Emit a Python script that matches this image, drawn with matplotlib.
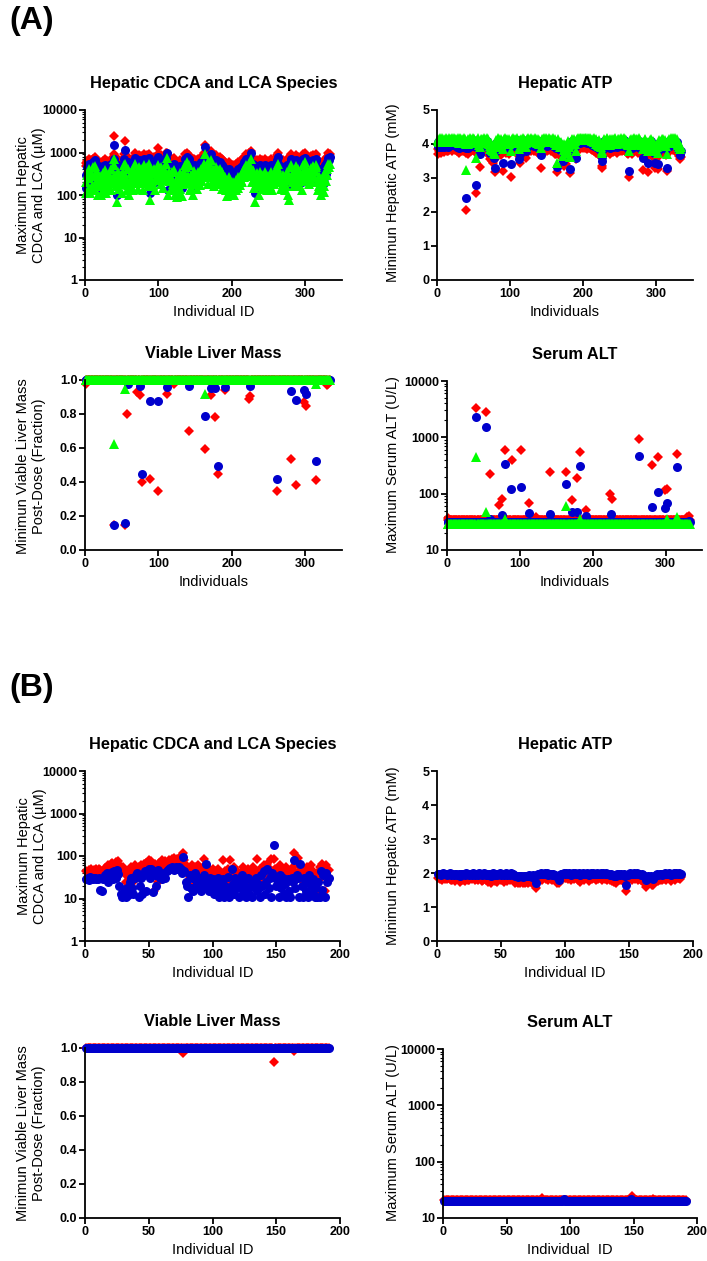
import matplotlib
matplotlib.use('agg')
import matplotlib.pyplot as plt
from matplotlib.ticker import FuncFormatter, NullFormatter
import numpy as np

plt.rcParams['font.family'] = ['Liberation Sans', 'DejaVu Sans']

# ---------------- (A) 333 individuals ----------------
# hepatic CDCA + LCA (uM), one value per individual
cdca_a_red = [
    560, 480, 620, 350, 700, 540, 300, 650, 420, 580,
    720, 390, 610, 800, 450, 520, 680, 330, 470, 590,
    400, 250, 530, 640, 360, 480, 700, 560, 290, 620,
    510, 440, 380, 600, 720, 350, 480, 560, 900, 2500,
    650, 420, 300, 540, 700, 380, 620, 480, 560, 330,
    450, 700, 900, 1900, 600, 520, 380, 800, 450, 300,
    560, 680, 420, 500, 740, 360, 620, 950, 480, 550,
    700, 400, 880, 650, 520, 820, 600, 750, 380, 900,
    480, 640, 560, 880, 700, 420, 920, 350, 600, 780,
    520, 680, 450, 800, 560, 380, 700, 620, 900, 1300,
    560, 720, 480, 850, 620, 400, 780, 560, 680, 950,
    1000, 600, 450, 720, 520, 650, 380, 560, 700, 480,
    750, 400, 300, 520, 250, 600, 450, 350, 680, 400,
    560, 300, 620, 480, 700, 900, 560, 850, 950, 620,
    880, 500, 380, 650, 420, 560, 300, 720, 480, 600,
    650, 520, 400, 700, 560, 620, 450, 800, 520, 680,
    700, 950, 1500, 900, 600, 750, 480, 1000, 850, 620,
    1100, 700, 500, 800, 600, 450, 720, 560, 850, 650,
    750, 600, 480, 800, 520, 700, 400, 650, 550, 480,
    600, 380, 520, 300, 450, 600, 400, 550, 350, 480,
    400, 500, 320, 450, 550, 380, 480, 600, 420, 520,
    460, 550, 650, 500, 720, 600, 800, 680, 900, 750,
    620, 850, 700, 950, 800, 1100, 650, 500, 750, 420,
    600, 350, 520, 680, 450, 600, 300, 550, 700, 480,
    650, 520, 400, 600, 700, 480, 550, 380, 620, 500,
    580, 450, 700, 600, 380, 520, 650, 480, 560, 750,
    600, 850, 950, 700, 500, 620, 400, 580, 480, 650,
    520, 380, 600, 450, 700, 300, 550, 420, 600, 900,
    850, 600, 500, 720, 450, 620, 880, 700, 550, 800,
    600, 450, 700, 520, 380, 650, 900, 600, 950, 750,
    850, 700, 550, 620, 480, 700, 600, 820, 500, 650,
    880, 600, 720, 900, 850, 500, 380, 620, 450, 560,
    300, 500, 400, 600, 350, 450, 700, 520, 800, 650,
    950, 850, 900]
cdca_a_blue = [
    300, 150, 450, 200, 550, 380, 180, 500, 250, 420,
    600, 220, 450, 650, 300, 350, 500, 160, 280, 420,
    250, 140, 350, 480, 200, 300, 520, 400, 170, 450,
    330, 260, 220, 420, 550, 200, 300, 380, 700, 1500,
    450, 250, 100, 350, 500, 220, 430, 300, 380, 180,
    280, 500, 700, 1150, 420, 330, 200, 600, 260, 160,
    350, 480, 250, 320, 560, 200, 420, 750, 300, 360,
    500, 220, 650, 450, 330, 600, 400, 550, 200, 700,
    300, 450, 350, 650, 500, 250, 750, 110, 400, 580,
    330, 480, 270, 600, 350, 200, 500, 420, 700, 800,
    350, 520, 280, 650, 420, 230, 580, 350, 480, 750,
    1000, 400, 130, 520, 330, 450, 200, 350, 500, 280,
    550, 230, 160, 330, 130, 400, 260, 180, 480, 220,
    350, 150, 420, 280, 500, 700, 350, 650, 800, 420,
    700, 300, 200, 450, 240, 350, 160, 520, 280, 400,
    450, 320, 220, 500, 350, 420, 260, 600, 320, 480,
    500, 750, 1350, 650, 400, 550, 280, 800, 650, 420,
    900, 500, 300, 600, 400, 250, 520, 350, 650, 450,
    550, 400, 280, 600, 320, 500, 220, 450, 350, 280,
    400, 200, 330, 150, 250, 400, 220, 350, 180, 280,
    220, 300, 160, 250, 350, 200, 280, 400, 230, 320,
    270, 350, 450, 300, 520, 400, 600, 480, 700, 550,
    420, 650, 500, 750, 600, 1000, 450, 300, 550, 240,
    400, 110, 320, 480, 250, 400, 160, 350, 500, 280,
    450, 320, 220, 400, 500, 280, 350, 200, 420, 300,
    380, 250, 500, 400, 200, 320, 450, 280, 360, 550,
    400, 650, 800, 500, 300, 420, 220, 380, 280, 450,
    320, 200, 400, 250, 500, 160, 350, 230, 400, 700,
    650, 400, 300, 520, 250, 420, 680, 500, 350, 600,
    400, 250, 500, 320, 200, 450, 700, 400, 750, 550,
    650, 500, 350, 420, 280, 500, 400, 620, 300, 450,
    680, 400, 520, 700, 650, 300, 200, 420, 250, 360,
    160, 300, 220, 400, 190, 250, 500, 320, 600, 450,
    750, 650, 800]
cdca_a_green = [
    200, 110, 300, 130, 400, 250, 110, 350, 160, 280,
    450, 130, 300, 480, 190, 230, 350, 100, 170, 280,
    160, 100, 230, 330, 130, 190, 380, 260, 110, 300,
    220, 170, 140, 280, 400, 130, 190, 250, 500, 700,
    300, 160, 70, 230, 350, 140, 290, 190, 250, 110,
    180, 350, 500, 550, 280, 210, 130, 420, 170, 100,
    230, 330, 160, 210, 400, 130, 280, 550, 190, 240,
    350, 140, 460, 300, 210, 420, 260, 380, 130, 500,
    190, 300, 230, 460, 350, 160, 550, 75, 260, 400,
    210, 330, 170, 420, 230, 130, 350, 280, 500, 400,
    230, 360, 180, 450, 280, 150, 400, 230, 330, 550,
    750, 260, 100, 350, 210, 300, 130, 230, 350, 180,
    380, 150, 100, 210, 90, 260, 170, 110, 330, 140,
    230, 95, 280, 180, 350, 500, 230, 450, 600, 280,
    500, 190, 130, 300, 150, 230, 100, 360, 180, 260,
    300, 200, 140, 350, 230, 280, 170, 420, 210, 330,
    350, 550, 900, 450, 260, 380, 180, 600, 450, 280,
    650, 350, 190, 420, 260, 160, 360, 230, 450, 300,
    380, 260, 180, 420, 210, 350, 140, 300, 230, 180,
    260, 130, 210, 95, 160, 260, 140, 230, 110, 180,
    140, 200, 100, 160, 230, 130, 180, 260, 150, 210,
    170, 230, 300, 200, 360, 260, 420, 330, 500, 380,
    280, 450, 350, 550, 420, 700, 300, 200, 380, 150,
    260, 70, 210, 330, 160, 260, 100, 230, 350, 180,
    300, 210, 140, 260, 350, 180, 230, 130, 280, 200,
    250, 160, 350, 260, 130, 210, 300, 180, 240, 380,
    260, 450, 550, 350, 200, 280, 140, 250, 180, 300,
    210, 130, 260, 160, 350, 100, 230, 75, 260, 500,
    450, 260, 200, 360, 160, 280, 480, 350, 230, 420,
    260, 160, 350, 210, 130, 300, 500, 260, 600, 380,
    450, 350, 230, 280, 180, 350, 260, 430, 200, 300,
    480, 260, 360, 500, 450, 200, 130, 280, 160, 240,
    100, 200, 140, 260, 120, 160, 350, 210, 420, 300,
    550, 450, 550]

# hepatic ATP (mM)
atp_a_red = [
    3.72, 3.85, 3.78, 3.9, 3.75, 3.82, 3.95, 3.8, 3.88, 3.76,
    3.84, 3.92, 3.8, 3.87, 3.78, 3.95, 3.83, 3.9, 3.86, 3.8,
    3.93, 3.85, 3.97, 3.82, 3.9, 3.88, 3.78, 3.84, 3.92, 3.75,
    3.86, 3.95, 3.8, 3.9, 3.85, 3.78, 3.92, 3.88, 3.74, 2.05,
    3.8, 3.9, 3.72, 3.85, 3.93, 3.78, 3.88, 3.82, 3.95, 3.86,
    3.9, 3.8, 3.75, 2.55, 3.85, 3.92, 3.78, 3.7, 3.32, 3.88,
    3.82, 3.9, 3.85, 3.95, 3.78, 3.88, 3.8, 3.92, 3.75, 3.86,
    3.7, 3.65, 3.55, 3.72, 3.5, 3.62, 3.45, 3.7, 3.18, 3.6,
    3.85, 3.78, 3.92, 3.8, 3.88, 3.75, 3.9, 3.68, 3.82, 3.22,
    3.88, 3.8, 3.92, 3.75, 3.85, 3.9, 3.78, 3.86, 3.72, 3.8,
    3.03, 3.88, 3.82, 3.92, 3.78, 3.9, 3.85, 3.8, 3.95, 3.72,
    3.8, 3.68, 3.45, 3.85, 3.9, 3.82, 3.95, 3.78, 3.88, 3.8,
    3.72, 3.6, 3.9, 3.85, 3.95, 3.82, 3.88, 3.92, 3.8, 3.86,
    3.9, 3.84, 3.78, 3.95, 3.88, 3.82, 3.76, 3.9, 3.7, 3.85,
    3.75, 3.3, 3.82, 3.9, 3.88, 3.95, 3.8, 3.86, 3.92, 3.78,
    3.88, 3.82, 3.95, 3.85, 3.9, 3.8, 3.86, 3.92, 3.78, 3.84,
    3.9, 3.72, 3.7, 3.17, 3.8, 3.88, 3.75, 3.65, 3.8, 3.72,
    3.68, 3.6, 3.35, 3.75, 3.62, 3.7, 3.4, 3.58, 3.82, 3.7,
    3.65, 3.15, 3.78, 3.85, 3.9, 3.8, 3.88, 3.75, 3.82, 3.55,
    3.9, 3.85, 3.95, 3.88, 3.92, 3.86, 3.95, 3.9, 3.88, 3.93,
    3.9, 3.95, 3.88, 3.92, 3.86, 3.9, 3.95, 3.88, 3.92, 3.85,
    3.9, 3.82, 3.88, 3.78, 3.92, 3.85, 3.75, 3.9, 3.8, 3.72,
    3.85, 3.68, 3.78, 3.65, 3.3, 3.35, 3.7, 3.82, 3.9, 3.85,
    3.75, 3.88, 3.92, 3.8, 3.86, 3.72, 3.9, 3.82, 3.88, 3.76,
    3.85, 3.9, 3.78, 3.92, 3.82, 3.75, 3.88, 3.84, 3.9, 3.8,
    3.86, 3.92, 3.78, 3.88, 3.95, 3.82, 3.9, 3.85, 3.8, 3.75,
    3.7, 3.03, 3.78, 3.85, 3.9, 3.82, 3.72, 3.88, 3.8, 3.92,
    3.85, 3.9, 3.8, 3.88, 3.75, 3.92, 3.82, 3.86, 3.7, 3.78,
    3.25, 3.8, 3.72, 3.85, 3.88, 3.75, 3.65, 3.8, 3.17, 3.72,
    3.85, 3.78, 3.9, 3.7, 3.82, 3.75, 3.6, 3.3, 3.65, 3.72,
    3.6, 3.27, 3.78, 3.85, 3.7, 3.82, 3.9, 3.75, 3.88, 3.8,
    3.72, 3.85, 3.68, 3.78, 3.2, 3.82, 3.9, 3.85, 3.78, 3.92,
    3.88, 3.95, 3.82, 3.9, 3.86, 3.92, 3.8, 3.88, 3.75, 3.7,
    3.65, 3.55, 3.62]
atp_a_blue = [
    3.95, 4.05, 3.9, 4.1, 3.92, 4.02, 4.12, 3.98, 4.06, 3.9,
    4.0, 4.1, 3.95, 4.05, 3.92, 4.12, 4.0, 4.08, 4.04, 3.96,
    4.1, 4.02, 4.12, 3.98, 4.08, 4.05, 3.92, 4.0, 4.1, 3.88,
    4.04, 4.12, 3.96, 4.08, 4.02, 3.92, 4.1, 4.05, 3.88, 2.42,
    3.96, 4.08, 3.88, 4.02, 4.12, 3.94, 4.06, 3.98, 4.12, 4.04,
    4.08, 3.96, 3.9, 2.8, 4.02, 4.1, 3.94, 3.85, 3.72, 4.06,
    3.98, 4.08, 4.02, 4.12, 3.94, 4.05, 3.96, 4.1, 3.9, 4.04,
    3.88, 3.82, 3.75, 3.9, 3.72, 3.8, 3.68, 3.6, 3.3, 3.78,
    4.02, 3.94, 4.1, 3.96, 4.05, 3.9, 4.08, 3.85, 3.98, 3.45,
    4.05, 3.96, 4.1, 3.9, 4.02, 4.08, 3.94, 4.04, 3.88, 3.96,
    3.42, 4.05, 3.98, 4.1, 3.94, 4.08, 4.02, 3.96, 4.12, 3.9,
    3.96, 3.55, 3.7, 4.02, 4.08, 3.98, 4.12, 3.94, 4.05, 3.96,
    3.9, 3.78, 4.08, 4.02, 4.12, 3.98, 4.05, 4.1, 3.96, 4.04,
    4.08, 4.0, 3.94, 4.12, 4.05, 3.98, 3.92, 4.08, 3.88, 4.02,
    3.9, 3.67, 3.98, 4.08, 4.05, 4.12, 3.96, 4.04, 4.1, 3.94,
    4.05, 3.98, 4.12, 4.02, 4.08, 3.96, 4.04, 4.1, 3.94, 4.0,
    4.08, 3.9, 3.88, 3.33, 3.96, 4.05, 3.9, 3.82, 3.96, 3.88,
    3.85, 3.5, 3.7, 3.9, 3.78, 3.86, 3.62, 3.75, 3.98, 3.86,
    3.8, 3.27, 3.94, 4.02, 4.08, 3.96, 4.05, 3.9, 3.98, 3.6,
    4.08, 4.02, 4.12, 4.05, 4.1, 4.04, 4.12, 4.08, 4.05, 4.1,
    4.08, 4.12, 4.05, 4.1, 4.04, 4.08, 4.12, 4.05, 4.1, 4.02,
    4.08, 3.98, 4.05, 3.94, 4.1, 4.02, 3.9, 4.08, 3.96, 3.88,
    4.02, 3.85, 3.94, 3.8, 3.5, 3.62, 3.86, 3.98, 4.08, 4.02,
    3.92, 4.05, 4.1, 3.96, 4.04, 3.88, 4.08, 3.98, 4.05, 3.92,
    4.02, 4.08, 3.94, 4.1, 3.98, 3.9, 4.05, 4.0, 4.08, 3.96,
    4.04, 4.1, 3.94, 4.05, 4.12, 3.98, 4.08, 4.02, 3.96, 3.9,
    3.86, 3.2, 3.94, 4.02, 4.08, 3.98, 3.88, 4.05, 3.96, 4.1,
    4.02, 4.08, 3.96, 4.05, 3.9, 4.1, 3.98, 4.04, 3.86, 3.94,
    3.58, 3.96, 3.88, 4.02, 4.05, 3.9, 3.8, 3.96, 3.43, 3.88,
    4.02, 3.94, 4.08, 3.86, 3.98, 3.9, 3.75, 3.45, 3.8, 3.88,
    3.75, 3.4, 3.94, 4.02, 3.86, 3.98, 4.08, 3.9, 4.05, 3.96,
    3.88, 4.02, 3.84, 3.94, 3.3, 3.98, 4.08, 4.02, 3.94, 4.1,
    4.05, 4.12, 3.98, 4.08, 4.02, 4.1, 3.96, 4.05, 3.9, 3.86,
    3.82, 3.68, 3.78]
atp_a_green = [
    4.1, 4.15, 4.05, 4.18, 4.08, 4.12, 4.18, 4.1, 4.15, 4.05,
    4.12, 4.18, 4.08, 4.15, 4.05, 4.18, 4.12, 4.16, 4.14, 4.08,
    4.18, 4.12, 4.18, 4.1, 4.16, 4.14, 4.05, 4.12, 4.18, 4.02,
    4.14, 4.18, 4.08, 4.16, 4.12, 4.05, 4.18, 4.14, 4.0, 3.23,
    4.08, 4.16, 4.0, 4.12, 4.18, 4.06, 4.15, 4.1, 4.18, 4.14,
    4.16, 4.08, 4.02, 3.6, 4.12, 4.18, 4.06, 3.98, 3.92, 4.15,
    4.1, 4.16, 4.12, 4.18, 4.06, 4.14, 4.08, 4.18, 4.02, 4.14,
    4.0, 3.95, 3.85, 4.02, 3.82, 3.92, 3.8, 3.75, 3.72, 3.9,
    4.12, 4.06, 4.18, 4.08, 4.14, 4.02, 4.16, 3.98, 4.1, 3.85,
    4.14, 4.08, 4.18, 4.02, 4.12, 4.16, 4.06, 4.14, 4.0, 4.08,
    3.8, 4.14, 4.08, 4.18, 4.06, 4.16, 4.12, 4.08, 4.18, 4.02,
    4.08, 3.85, 3.9, 4.12, 4.16, 4.08, 4.18, 4.06, 4.14, 4.08,
    4.02, 3.92, 4.16, 4.12, 4.18, 4.08, 4.14, 4.18, 4.06, 4.12,
    4.16, 4.1, 4.06, 4.18, 4.14, 4.08, 4.04, 4.16, 4.0, 4.12,
    4.02, 3.88, 4.08, 4.16, 4.14, 4.18, 4.06, 4.12, 4.18, 4.06,
    4.14, 4.08, 4.18, 4.12, 4.16, 4.06, 4.14, 4.18, 4.06, 4.1,
    4.16, 4.02, 3.98, 3.45, 4.06, 4.14, 4.0, 3.92, 4.06, 3.98,
    3.95, 3.65, 3.82, 4.0, 3.88, 3.96, 3.75, 3.85, 4.08, 3.96,
    3.9, 3.62, 4.06, 4.12, 4.16, 4.06, 4.14, 4.0, 4.08, 3.8,
    4.16, 4.12, 4.18, 4.14, 4.18, 4.12, 4.18, 4.16, 4.14, 4.18,
    4.16, 4.18, 4.14, 4.18, 4.12, 4.16, 4.18, 4.14, 4.18, 4.12,
    4.16, 4.08, 4.14, 4.06, 4.18, 4.12, 4.0, 4.16, 4.06, 3.98,
    4.12, 3.95, 4.04, 3.9, 3.75, 3.8, 3.96, 4.08, 4.16, 4.12,
    4.02, 4.14, 4.18, 4.06, 4.12, 3.98, 4.16, 4.08, 4.14, 4.02,
    4.12, 4.16, 4.04, 4.18, 4.08, 4.0, 4.14, 4.1, 4.16, 4.06,
    4.12, 4.18, 4.04, 4.14, 4.18, 4.08, 4.16, 4.12, 4.06, 4.0,
    3.96, 3.78, 4.04, 4.12, 4.16, 4.08, 3.98, 4.14, 4.06, 4.18,
    4.12, 4.16, 4.06, 4.14, 4.0, 4.18, 4.08, 4.12, 3.96, 4.04,
    3.85, 4.06, 3.98, 4.12, 4.14, 4.0, 3.9, 4.06, 3.8, 3.98,
    4.12, 4.04, 4.16, 3.96, 4.08, 4.0, 3.88, 3.78, 3.92, 3.98,
    3.9, 3.75, 4.04, 4.12, 3.96, 4.08, 4.16, 4.0, 4.14, 4.06,
    3.98, 4.12, 3.94, 4.04, 3.7, 4.08, 4.16, 4.12, 4.04, 4.18,
    4.14, 4.18, 4.08, 4.16, 4.12, 4.18, 4.06, 4.14, 4.0, 3.96,
    3.92, 3.85, 3.9]

# viable liver mass (fraction): nearly everyone stays at 1.0, exceptions by ID
n_a = 333
mass_a_base = 1.0
mass_a_red = {2: 0.975, 40: 0.15, 54: 0.145, 57: 0.80, 71: 0.93, 75: 0.91, 78: 0.40,
              88: 0.415, 100: 0.35, 111: 0.92, 121: 0.975, 141: 0.70, 163: 0.595,
              171: 0.91, 177: 0.785, 181: 0.45, 190: 0.94, 224: 0.89, 225: 0.905,
              262: 0.35, 281: 0.535, 288: 0.385, 298: 0.87, 301: 0.85, 314: 0.41,
              329: 0.97, 331: 0.975}
mass_a_blue = {40: 0.148, 54: 0.16, 58: 0.975, 75: 0.965, 78: 0.445, 88: 0.875,
               100: 0.875, 111: 0.96, 141: 0.965, 163: 0.79, 171: 0.955, 177: 0.955,
               181: 0.495, 190: 0.96, 225: 0.965, 262: 0.42, 281: 0.935, 288: 0.88,
               298: 0.94, 301: 0.915, 314: 0.525}
mass_a_green = {40: 0.625, 54: 0.95, 163: 0.92, 314: 0.975}

# serum ALT (U/L): baseline band plus elevated individuals
alt_a_base = {'red': 34, 'blue': 32, 'green': 29}
alt_a_red = {2: 37, 40: 3300, 54: 2800, 59: 220, 72: 62, 76: 80, 79: 600, 89: 400,
             101: 590, 112: 68, 122: 38, 142: 245, 164: 240, 172: 77, 178: 190,
             182: 550, 191: 52, 224: 100, 226: 80, 263: 950, 281: 320, 289: 440,
             299: 115, 302: 120, 315: 500, 329: 38, 332: 40}
alt_a_blue = {40: 2300, 54: 1550, 59: 36, 76: 42, 79: 330, 88: 120, 101: 130,
              112: 45, 142: 43, 164: 150, 172: 48, 178: 47, 182: 310, 191: 40,
              225: 43, 263: 460, 281: 58, 289: 108, 299: 55, 302: 68, 315: 300, 332: 33}
alt_a_green = {40: 450, 54: 48, 79: 36, 164: 60, 182: 36, 302: 35, 315: 38}

# ---------------- (B) 191 individuals ----------------
cdca_b_red = [
    45, 42, 48, 40, 50, 44, 47, 38, 49, 43,
    50, 46, 42, 35, 48, 52, 45, 60, 55, 65,
    70, 58, 62, 72, 68, 75, 60, 50, 45, 55,
    38, 25, 45, 20, 30, 55, 40, 25, 60, 50,
    45, 55, 30, 60, 50, 65, 40, 70, 55, 80,
    60, 75, 45, 15, 65, 50, 25, 70, 35, 80,
    55, 45, 75, 65, 50, 80, 70, 85, 75, 90,
    80, 85, 75, 90, 70, 85, 120, 80, 60, 40,
    50, 30, 45, 60, 20, 55, 40, 35, 60, 45,
    50, 30, 85, 60, 40, 55, 30, 45, 25, 50,
    35, 45, 30, 50, 20, 40, 35, 80, 30, 45,
    25, 50, 35, 80, 40, 30, 55, 25, 45, 35,
    20, 40, 30, 55, 25, 45, 35, 50, 20, 40,
    30, 55, 25, 45, 85, 35, 50, 30, 45, 60,
    25, 40, 65, 30, 50, 85, 40, 85, 50, 35,
    45, 30, 60, 40, 20, 50, 35, 55, 25, 45,
    30, 50, 55, 120, 40, 30, 90, 45, 60, 35,
    50, 25, 45, 55, 30, 40, 60, 25, 45, 35,
    20, 40, 15, 55, 30, 65, 45, 15, 60, 50,
    48]
cdca_b_blue = [
    28, 30, 27, 32, 29, 28, 31, 30, 28, 29,
    30, 16, 15, 28, 30, 35, 40, 25, 30, 35,
    42, 28, 45, 30, 48, 38, 20, 13, 11, 12,
    15, 11, 18, 12, 25, 30, 18, 13, 30, 35,
    40, 11, 20, 30, 13, 35, 45, 15, 40, 50,
    30, 50, 14, 45, 35, 20, 48, 40, 30, 28,
    35, 40, 30, 45, 48, 50, 52, 55, 50, 48,
    55, 50, 52, 55, 50, 40, 95, 45, 25, 20,
    11, 35, 18, 30, 15, 40, 20, 25, 18, 30,
    15, 22, 35, 18, 65, 25, 15, 30, 20, 28,
    13, 25, 18, 30, 11, 22, 15, 28, 11, 20,
    15, 32, 11, 18, 50, 22, 13, 30, 18, 25,
    11, 20, 35, 15, 25, 11, 18, 30, 13, 20,
    11, 25, 18, 30, 15, 22, 11, 35, 20, 45,
    13, 25, 50, 18, 30, 11, 40, 180, 30, 20,
    25, 11, 35, 18, 30, 13, 22, 11, 28, 15,
    11, 30, 25, 80, 18, 35, 30, 11, 65, 20,
    11, 30, 15, 25, 11, 35, 20, 13, 28, 11,
    18, 11, 25, 11, 45, 16, 35, 11, 40, 25,
    30]

atp_b_red = [
    1.85, 1.82, 1.88, 1.8, 1.86, 1.83, 1.87, 1.81, 1.85, 1.82,
    1.78, 1.8, 1.84, 1.76, 1.82, 1.86, 1.8, 1.75, 1.83, 1.78,
    1.82, 1.76, 1.85, 1.8, 1.78, 1.86, 1.82, 1.88, 1.84, 1.8,
    1.83, 1.78, 1.86, 1.82, 1.76, 1.8, 1.85, 1.78, 1.82, 1.75,
    1.8, 1.72, 1.78, 1.84, 1.76, 1.82, 1.74, 1.8, 1.86, 1.78,
    1.82, 1.75, 1.8, 1.85, 1.76, 1.82, 1.78, 1.84, 1.8, 1.76,
    1.72, 1.75, 1.7, 1.73, 1.72, 1.76, 1.7, 1.74, 1.72, 1.75,
    1.72, 1.78, 1.74, 1.7, 1.76, 1.72, 1.55, 1.78, 1.84, 1.82,
    1.86, 1.8, 1.84, 1.88, 1.82, 1.86, 1.8, 1.85, 1.82, 1.78,
    1.84, 1.8, 1.76, 1.72, 1.7, 1.78, 1.85, 1.82, 1.88, 1.84,
    1.86, 1.82, 1.88, 1.84, 1.8, 1.86, 1.82, 1.88, 1.84, 1.8,
    1.85, 1.75, 1.82, 1.86, 1.8, 1.84, 1.88, 1.82, 1.76, 1.85,
    1.82, 1.88, 1.84, 1.8, 1.86, 1.82, 1.84, 1.88, 1.8, 1.86,
    1.82, 1.86, 1.8, 1.84, 1.78, 1.82, 1.76, 1.74, 1.78, 1.72,
    1.8, 1.84, 1.78, 1.82, 1.76, 1.8, 1.72, 1.48, 1.78, 1.82,
    1.86, 1.8, 1.84, 1.88, 1.82, 1.86, 1.8, 1.84, 1.78, 1.82,
    1.76, 1.72, 1.6, 1.68, 1.74, 1.7, 1.72, 1.66, 1.65, 1.74,
    1.78, 1.82, 1.76, 1.8, 1.84, 1.78, 1.82, 1.86, 1.8, 1.84,
    1.88, 1.82, 1.76, 1.84, 1.86, 1.8, 1.88, 1.84, 1.86, 1.82,
    1.88]
atp_b_blue = [
    1.96, 1.98, 1.95, 1.97, 1.99, 1.96, 1.98, 1.95, 1.97, 1.99,
    1.95, 1.97, 1.93, 1.96, 1.98, 1.94, 1.97, 1.92, 1.96, 1.98,
    1.97, 1.94, 1.99, 1.96, 1.93, 1.98, 1.95, 2.0, 1.97, 1.95,
    1.98, 1.94, 1.99, 1.96, 1.93, 1.97, 2.0, 1.95, 1.98, 1.94,
    1.97, 1.92, 1.96, 1.99, 1.94, 1.97, 1.93, 1.98, 2.0, 1.95,
    1.97, 1.93, 1.96, 1.99, 1.94, 1.98, 1.95, 1.99, 1.96, 1.93,
    1.9, 1.92, 1.89, 1.91, 1.9, 1.92, 1.88, 1.91, 1.9, 1.92,
    1.9, 1.94, 1.92, 1.89, 1.93, 1.91, 1.7, 1.95, 1.98, 1.96,
    1.99, 1.96, 1.98, 2.0, 1.97, 1.99, 1.95, 1.98, 1.96, 1.94,
    1.98, 1.95, 1.92, 1.9, 1.78, 1.94, 1.98, 1.96, 2.0, 1.98,
    1.99, 1.96, 2.0, 1.98, 1.95, 1.99, 1.97, 2.0, 1.98, 1.96,
    1.99, 1.93, 1.97, 2.0, 1.96, 1.98, 2.0, 1.97, 1.93, 1.99,
    1.97, 2.0, 1.98, 1.96, 1.99, 1.97, 1.98, 2.0, 1.96, 1.99,
    1.97, 1.99, 1.96, 1.98, 1.94, 1.97, 1.93, 1.92, 1.95, 1.9,
    1.96, 1.98, 1.95, 1.97, 1.94, 1.96, 1.92, 1.65, 1.95, 1.97,
    1.99, 1.96, 1.98, 2.0, 1.97, 1.99, 1.96, 1.98, 1.95, 1.97,
    1.93, 1.9, 1.8, 1.85, 1.9, 1.87, 1.9, 1.84, 1.82, 1.9,
    1.94, 1.97, 1.93, 1.96, 1.98, 1.95, 1.97, 2.0, 1.96, 1.98,
    2.0, 1.97, 1.94, 1.98, 2.0, 1.96, 2.0, 1.98, 1.99, 1.97,
    1.96]

n_b = 191
mass_b_base = 1.0
mass_b_red = {77: 0.97, 148: 0.915, 164: 0.98}
mass_b_blue = {}
alt_b_base = {'red': 21, 'blue': 20}
alt_b_red = {78: 23, 149: 25, 165: 22}
alt_b_blue = {95: 22, 148: 22}

RED = '#FF0000'
BLUE = '#0000CC'
GREEN = '#00FF00'
W, H = 707.0, 1261.0


def fill_series(n, base, changes):
    vals = [base] * n
    for k, v in changes.items():
        vals[k - 1] = v
    return vals


def add_ax(fig, left, top, right, bottom):
    return fig.add_axes([left / W, 1 - bottom / H, (right - left) / W, (bottom - top) / H])


def draw(ax, series, xmax, xticks, title, xlabel, ylog=False, ylim=None, yticks=None, yfmt='%d'):
    style = {'red': ('D', 5.2), 'blue': ('o', 6.5), 'green': ('^', 7.2)}
    col = {'red': RED, 'blue': BLUE, 'green': GREEN}
    for name, vals in series:
        m, ms = style[name]
        x = np.arange(1, len(vals) + 1)
        ax.plot(x, vals, linestyle='none', marker=m, ms=ms, mfc=col[name], mec=col[name],
                mew=0, clip_on=False)
    if ylog:
        ax.set_yscale('log')
    ax.set_ylim(*ylim)
    ax.set_xlim(0, xmax)
    ax.set_xticks(xticks)
    ax.set_yticks(yticks)
    ax.yaxis.set_major_formatter(FuncFormatter(lambda v, p: yfmt % v))
    if ylog:
        ax.yaxis.set_minor_formatter(NullFormatter())
    for s in ['top', 'right']:
        ax.spines[s].set_visible(False)
    for s in ['left', 'bottom']:
        ax.spines[s].set_linewidth(1.3)
    ax.tick_params(which='major', direction='out', length=4, width=1.3, pad=1.5,
                   labelsize=9)
    ax.tick_params(which='minor', direction='out', length=2, width=0.8)
    for lab in ax.get_xticklabels() + ax.get_yticklabels():
        lab.set_fontweight('bold')
    ax.set_title(title, fontsize=11.8, fontweight='bold', pad=16)
    ax.set_xlabel(xlabel, fontsize=10.5, labelpad=4)


fig = plt.figure(figsize=(W / 100, H / 100), dpi=100)

fig.text(9 / W, 1 - 21 / H, '(A)', fontsize=23, fontweight='bold', va='center', ha='left')
fig.text(9 / W, 1 - 688 / H, '(B)', fontsize=23, fontweight='bold', va='center', ha='left')

# panel A
ax = add_ax(fig, 85, 110, 342, 280)
draw(ax, [('red', cdca_a_red), ('blue', cdca_a_blue), ('green', cdca_a_green)],
     350, [0, 100, 200, 300], 'Hepatic CDCA and LCA Species', 'Individual ID',
     ylog=True, ylim=(1, 10000), yticks=[1, 10, 100, 1000, 10000])
fig.text(31 / W, 1 - 195 / H, 'Maximum Hepatic\nCDCA and LCA (\u00b5M)', rotation=90,
         ha='center', va='center', fontsize=10.5, linespacing=1.1)

ax = add_ax(fig, 437, 110, 693, 280)
draw(ax, [('red', atp_a_red), ('blue', atp_a_blue), ('green', atp_a_green)],
     350, [0, 100, 200, 300], 'Hepatic ATP', 'Individuals',
     ylim=(0, 5), yticks=[0, 1, 2, 3, 4, 5])
fig.text(393 / W, 1 - 193 / H, 'Minimun Hepatic ATP (mM)', rotation=90,
         ha='center', va='center', fontsize=10.5)

ax = add_ax(fig, 85, 380, 342, 550)
draw(ax, [('red', fill_series(n_a, mass_a_base, mass_a_red)),
          ('blue', fill_series(n_a, mass_a_base, mass_a_blue)),
          ('green', fill_series(n_a, mass_a_base, mass_a_green))],
     350, [0, 100, 200, 300], 'Viable Liver Mass', 'Individuals',
     ylim=(0, 1.0), yticks=[0, 0.2, 0.4, 0.6, 0.8, 1.0], yfmt='%.1f')
fig.text(31 / W, 1 - 466 / H, 'Minimun Viable Liver Mass\nPost-Dose (Fraction)', rotation=90,
         ha='center', va='center', fontsize=10.5, linespacing=1.1)

ax = add_ax(fig, 447, 381, 702, 550)
draw(ax, [('red', fill_series(n_a, alt_a_base['red'], alt_a_red)),
          ('blue', fill_series(n_a, alt_a_base['blue'], alt_a_blue)),
          ('green', fill_series(n_a, alt_a_base['green'], alt_a_green))],
     350, [0, 100, 200, 300], 'Serum ALT', 'Individuals',
     ylog=True, ylim=(10, 10000), yticks=[10, 100, 1000, 10000])
fig.text(393 / W, 1 - 465 / H, 'Maximum Serum ALT (U/L)', rotation=90,
         ha='center', va='center', fontsize=10.5)

# panel B
ax = add_ax(fig, 85, 771, 340, 941)
draw(ax, [('red', cdca_b_red), ('blue', cdca_b_blue)],
     200, [0, 50, 100, 150, 200], 'Hepatic CDCA and LCA Species', 'Individual ID',
     ylog=True, ylim=(1, 10000), yticks=[1, 10, 100, 1000, 10000])
fig.text(32 / W, 1 - 856 / H, 'Maximum Hepatic\nCDCA and LCA (\u00b5M)', rotation=90,
         ha='center', va='center', fontsize=10.5, linespacing=1.1)

ax = add_ax(fig, 437, 771, 693, 941)
draw(ax, [('red', atp_b_red), ('blue', atp_b_blue)],
     200, [0, 50, 100, 150, 200], 'Hepatic ATP', 'Individual ID',
     ylim=(0, 5), yticks=[0, 1, 2, 3, 4, 5])
fig.text(393 / W, 1 - 856 / H, 'Minimun Hepatic ATP (mM)', rotation=90,
         ha='center', va='center', fontsize=10.5)

ax = add_ax(fig, 85, 1048, 340, 1218)
draw(ax, [('red', fill_series(n_b, mass_b_base, mass_b_red)),
          ('blue', fill_series(n_b, mass_b_base, mass_b_blue))],
     200, [0, 50, 100, 150, 200], 'Viable Liver Mass', 'Individual ID',
     ylim=(0, 1.0), yticks=[0, 0.2, 0.4, 0.6, 0.8, 1.0], yfmt='%.1f')
fig.text(31 / W, 1 - 1133 / H, 'Minimun Viable Liver Mass\nPost-Dose (Fraction)', rotation=90,
         ha='center', va='center', fontsize=10.5, linespacing=1.1)

ax = add_ax(fig, 443, 1049, 697, 1218)
draw(ax, [('red', fill_series(n_b, alt_b_base['red'], alt_b_red)),
          ('blue', fill_series(n_b, alt_b_base['blue'], alt_b_blue))],
     200, [0, 50, 100, 150, 200], 'Serum ALT', 'Individual  ID',
     ylog=True, ylim=(10, 10000), yticks=[10, 100, 1000, 10000])
fig.text(393 / W, 1 - 1133 / H, 'Maximum Serum ALT (U/L)', rotation=90,
         ha='center', va='center', fontsize=10.5)

plt.savefig('out.png', dpi=100)
